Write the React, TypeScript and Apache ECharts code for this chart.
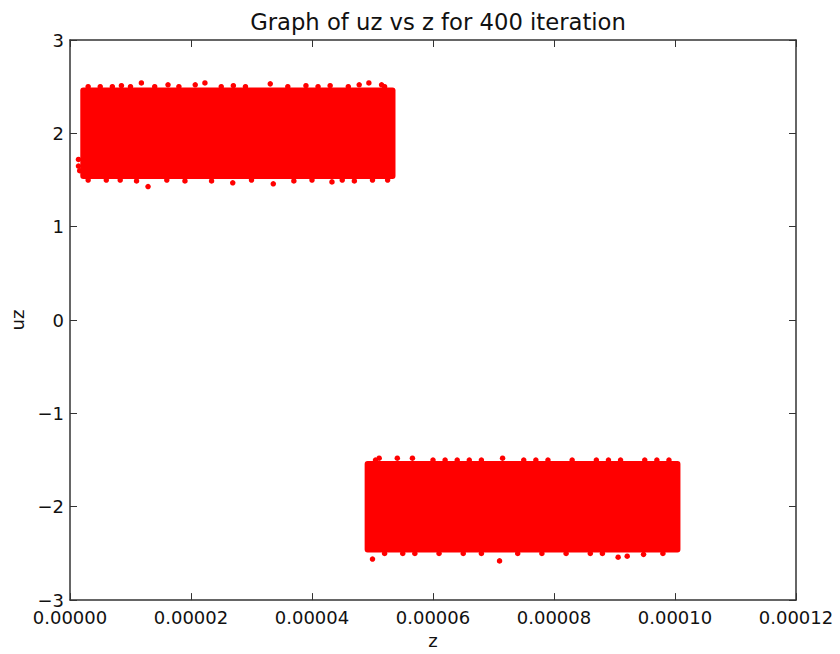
import React, { useEffect, useRef } from "react";
import * as echarts from "echarts";

// Axis setup
const xTicks = [0, 0.00002, 0.00004, 0.00006, 0.00008, 0.0001, 0.00012];
const yTicks = [-3, -2, -1, 0, 1, 2, 3];

// Dense cloud extents (z range, uz range)
const cloud1Z = [0.0000017, 0.0000538];
const cloud1Uz = [1.51, 2.49];
const cloud2Z = [0.0000487, 0.0001009];
const cloud2Uz = [-2.49, -1.51];

// Scattered points along the cloud borders and outliers: [z, uz]
const cloud1Edge: number[][] = [
  [0.000003, 2.5], [0.000005, 2.5], [0.000007, 2.5], [0.0000085, 2.51], [0.00001, 2.5],
  [0.0000118, 2.54], [0.000014, 2.5], [0.0000162, 2.52], [0.000018, 2.5], [0.0000207, 2.52],
  [0.0000223, 2.54], [0.000025, 2.5], [0.000027, 2.51], [0.000029, 2.5], [0.0000331, 2.53],
  [0.000036, 2.5], [0.000039, 2.51], [0.000041, 2.5], [0.000043, 2.51], [0.000046, 2.5],
  [0.0000478, 2.52], [0.0000494, 2.54], [0.0000515, 2.52], [0.000052, 2.5],
  [0.000003, 1.5], [0.000006, 1.5], [0.0000083, 1.5], [0.000011, 1.49], [0.0000129, 1.43],
  [0.000016, 1.5], [0.000019, 1.49], [0.0000234, 1.49], [0.0000269, 1.47], [0.00003, 1.5],
  [0.0000336, 1.46], [0.000037, 1.49], [0.00004, 1.5], [0.0000433, 1.48], [0.000045, 1.5],
  [0.000047, 1.49], [0.00005, 1.5], [0.0000525, 1.5],
  [0.0000014, 1.65], [0.0000014, 1.72], [0.0000016, 1.6],
];
const cloud2Edge: number[][] = [
  [0.0000505, -1.5], [0.0000511, -1.48], [0.0000541, -1.48], [0.0000566, -1.48], [0.00006, -1.5],
  [0.000062, -1.5], [0.000064, -1.5], [0.000066, -1.5], [0.000068, -1.5], [0.0000715, -1.48],
  [0.000075, -1.5], [0.000077, -1.5], [0.000079, -1.5], [0.000083, -1.5], [0.000087, -1.5],
  [0.000089, -1.5], [0.000091, -1.5], [0.000095, -1.5], [0.000097, -1.5], [0.000099, -1.5],
  [0.00005, -2.56], [0.000052, -2.5], [0.000055, -2.5], [0.000057, -2.5], [0.000061, -2.5],
  [0.000065, -2.5], [0.000068, -2.5], [0.000071, -2.58], [0.000074, -2.5], [0.000078, -2.5],
  [0.000082, -2.5], [0.000086, -2.5], [0.000088, -2.5], [0.0000906, -2.54], [0.0000921, -2.53],
  [0.0000948, -2.51], [0.000098, -2.5],
];

const fmtY = (v: number) => (v < 0 ? "\u2212" + Math.abs(v) : String(v));

export default function App() {
  const ref = useRef<HTMLDivElement>(null);
  useEffect(() => {
    if (!ref.current) return;
    const chart = echarts.init(ref.current, null, { renderer: "svg" });
    const font = "DejaVu Sans";
    const frame = "#333333";
    const xMin = xTicks[0];
    const xMax = xTicks[xTicks.length - 1];
    const xInt = xTicks[1] - xTicks[0];
    const yMin = yTicks[0];
    const yMax = yTicks[yTicks.length - 1];
    const yInt = yTicks[1] - yTicks[0];
    const axisCommon = {
      axisLine: { show: true, onZero: false, lineStyle: { color: frame, width: 1.5 } },
      axisTick: { show: true, inside: true, length: 7, lineStyle: { color: frame, width: 1 } },
      splitLine: { show: false },
    };
    const rects = [
      [cloud1Z[0], cloud1Z[1], cloud1Uz[0], cloud1Uz[1]],
      [cloud2Z[0], cloud2Z[1], cloud2Uz[0], cloud2Uz[1]],
    ];
    chart.setOption({
      animation: false,
      title: {
        text: "Graph of uz vs z for 400 iteration",
        left: 433,
        top: 5,
        textAlign: "center",
        textStyle: { fontFamily: font, fontSize: 22.7, fontWeight: "normal", color: "#111" },
      },
      grid: { left: 70, right: 44, top: 40, bottom: 50 },
      xAxis: [
        {
          type: "value",
          position: "bottom",
          min: xMin,
          max: xMax,
          interval: xInt,
          name: "z",
          nameLocation: "middle",
          nameGap: 30,
          nameTextStyle: { fontFamily: font, fontSize: 18, color: "#111" },
          axisLabel: {
            fontFamily: font,
            fontSize: 18,
            color: "#111",
            margin: 8,
            formatter: (v: number) => v.toFixed(5),
          },
          ...axisCommon,
        },
        {
          type: "value",
          position: "top",
          min: xMin,
          max: xMax,
          interval: xInt,
          axisLabel: { show: false },
          ...axisCommon,
        },
      ],
      yAxis: [
        {
          type: "value",
          position: "left",
          min: yMin,
          max: yMax,
          interval: yInt,
          name: "uz",
          nameLocation: "middle",
          nameGap: 38,
          nameTextStyle: { fontFamily: font, fontSize: 18, color: "#111" },
          axisLabel: { fontFamily: font, fontSize: 18, color: "#111", margin: 6, formatter: fmtY },
          ...axisCommon,
        },
        {
          type: "value",
          position: "right",
          min: yMin,
          max: yMax,
          interval: yInt,
          axisLabel: { show: false },
          ...axisCommon,
        },
      ],
      series: [
        {
          type: "custom",
          xAxisIndex: 0,
          yAxisIndex: 0,
          encode: { x: [0, 1], y: [2, 3] },
          data: rects,
          renderItem: (params: any, api: any) => {
            const p0 = api.coord([api.value(0), api.value(3)]);
            const p1 = api.coord([api.value(1), api.value(2)]);
            return {
              type: "rect",
              shape: { x: p0[0], y: p0[1], width: p1[0] - p0[0], height: p1[1] - p0[1], r: 3 },
              style: { fill: "#ff0000" },
            };
          },
        },
        {
          type: "scatter",
          symbol: "circle",
          symbolSize: 5.5,
          itemStyle: { color: "#ff0000", opacity: 1 },
          data: [...cloud1Edge, ...cloud2Edge],
        },
      ],
    });
    return () => chart.dispose();
  }, []);
  return (
    <div
      ref={ref}
      style={{ position: "fixed", left: 0, top: 0, width: 840, height: 654, background: "#fff" }}
    />
  );
}
